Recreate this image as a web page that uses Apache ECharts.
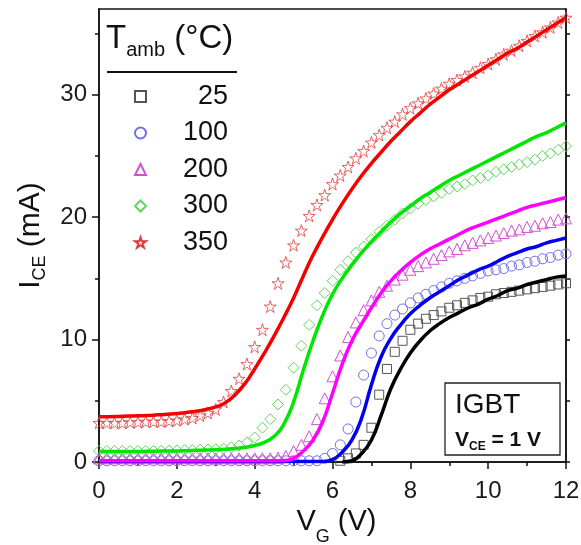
<!DOCTYPE html>
<html>
<head>
<meta charset="utf-8">
<script src="https://cdn.jsdelivr.net/npm/echarts@6/dist/echarts.min.js"></script>
<style>
html,body{margin:0;padding:0;background:#fff;}
#chart{width:581px;height:545px;}
</style>
</head>
<body>
<div id="chart"></div>
<script>
// ---- Data ----
const legendNames = ['25', '100', '200', '300', '350'];
const xTicks = [0, 2, 4, 6, 8, 10, 12];
const yTicks = [0, 10, 20, 30];

// measured points (symbols), V_G in volts
const vgMeas = [0,0.2,0.4,0.6,0.8,1,1.2,1.4,1.6,1.8,2,2.2,2.4,2.6,2.8,3,3.2,3.4,3.6,3.8,4,4.2,4.4,4.6,4.8,5,5.2,5.4,5.6,5.8,6,6.2,6.4,6.6,6.8,7,7.2,7.4,7.6,7.8,8,8.2,8.4,8.6,8.8,9,9.2,9.4,9.6,9.8,10,10.2,10.4,10.6,10.8,11,11.2,11.4,11.6,11.8,12];

const meas25 = [null,null,null,null,null,null,null,null,null,null,null,null,null,null,null,null,null,null,null,null,null,null,null,null,null,null,null,null,null,null,null,
  0.1,0.3,0.7,1.4,2.8,5.5,7.6,9.0,9.9,10.8,11.3,11.7,12.0,12.3,12.6,12.8,13.0,13.2,13.4,13.5,13.7,13.8,13.9,14.0,14.1,14.2,14.3,14.4,14.5,14.6];
const meas100 = [0.1,0.1,0.1,0.1,0.1,0.1,0.1,0.1,0.1,0.1,0.1,0.1,0.1,0.1,0.1,0.1,0.1,0.1,0.1,0.1,0.1,0.1,0.1,0.1,0.1,0.1,0.1,0.1,0.1,
  0.3,0.7,1.4,2.7,4.9,7.1,8.9,10.3,11.3,12.0,12.5,13.0,13.4,13.7,14.0,14.3,14.6,14.8,15.0,15.2,15.4,15.6,15.7,15.8,16.0,16.1,16.3,16.4,16.6,16.7,16.9,17.0];
const meas200 = [0.3,0.3,0.3,0.3,0.3,0.3,0.3,0.3,0.3,0.3,0.3,0.3,0.3,0.3,0.3,0.3,0.3,0.3,0.3,0.3,0.3,0.3,0.3,
  0.35,0.5,0.9,1.4,2.1,3.5,5.2,7.0,8.7,10.2,11.4,12.4,13.2,13.9,14.4,14.9,15.3,15.7,16.0,16.3,16.6,16.9,17.2,17.4,17.7,17.9,18.1,18.3,18.5,18.7,18.9,19.0,19.2,19.3,19.5,19.6,19.8,19.9];
const meas300 = [0.9,0.9,0.9,0.9,0.9,0.9,0.9,0.9,0.92,0.93,0.95,0.96,0.98,1.0,1.02,1.05,1.1,1.2,1.35,1.6,2.0,2.8,3.5,4.7,5.9,7.7,9.5,11.2,12.8,13.8,14.8,15.7,16.4,17.1,17.6,18.2,18.8,19.3,19.8,20.3,20.7,21.1,21.4,21.7,22.0,22.3,22.5,22.7,23.0,23.2,23.4,23.7,23.9,24.1,24.3,24.5,24.7,25.0,25.2,25.5,25.8];
const meas350 = [3.2,3.2,3.2,3.2,3.25,3.25,3.3,3.3,3.3,3.35,3.4,3.5,3.6,3.8,4.0,4.3,4.9,5.8,6.8,8.0,9.4,10.8,12.7,14.6,16.3,17.7,18.9,20.1,21.0,21.8,22.7,23.4,24.1,24.8,25.4,26.1,26.7,27.3,27.8,28.4,28.9,29.3,29.7,30.1,30.5,30.9,31.2,31.5,31.8,32.2,32.5,32.9,33.3,33.6,34.0,34.4,34.8,35.1,35.5,35.9,36.3];

// model curves (lines)
const vgFit = [0,0.25,0.5,0.75,1,1.25,1.5,1.75,2,2.25,2.5,2.75,3,3.25,3.5,3.75,4,4.25,4.5,4.75,5,5.25,5.5,5.75,6,6.25,6.5,6.75,7,7.25,7.5,7.75,8,8.25,8.5,8.75,9,9.25,9.5,9.75,10,10.25,10.5,10.75,11,11.25,11.5,11.75,12];
const fit25 = [null,null,null,null,null,null,null,null,null,null,null,null,null,null,null,null,null,null,null,null,null,null,null,null,null,
  0.0,0.1,0.7,1.8,3.8,6.0,7.6,8.9,9.9,10.7,11.3,11.8,12.2,12.6,12.9,13.3,13.6,14.0,14.2,14.5,14.7,14.9,15.1,15.2];
const fit100 = [0.05,0.05,0.05,0.05,0.05,0.05,0.05,0.05,0.05,0.05,0.05,0.05,0.05,0.05,0.05,0.05,0.05,0.05,0.05,0.05,0.05,0.05,0.05,0.05,
  0.2,0.8,1.8,3.6,6.3,8.6,10.1,11.2,12.1,12.8,13.4,13.9,14.4,14.9,15.3,15.7,16.0,16.4,16.8,17.1,17.4,17.6,17.9,18.1,18.3];
const fit200 = [0.1,0.1,0.1,0.1,0.1,0.1,0.1,0.1,0.1,0.1,0.1,0.1,0.1,0.1,0.1,0.1,0.1,0.1,0.1,0.12,
  0.3,0.9,1.8,3.3,5.6,8.0,9.9,11.3,12.6,13.8,14.8,15.6,16.3,16.9,17.4,17.8,18.2,18.6,19.0,19.3,19.6,19.9,20.2,20.5,20.8,21.0,21.2,21.4,21.6];
const fit300 = [0.85,0.85,0.85,0.85,0.86,0.87,0.88,0.9,0.9,0.92,0.95,0.98,1.0,1.05,1.1,1.2,1.35,1.6,2.1,3.1,4.9,7.5,9.9,12.0,13.7,15.0,16.1,17.1,18.0,18.8,19.6,20.3,20.9,21.5,22.0,22.5,23.0,23.4,23.8,24.2,24.6,25.0,25.4,25.8,26.2,26.6,26.9,27.3,27.7];
const fit350 = [3.7,3.7,3.72,3.75,3.78,3.8,3.85,3.9,3.97,4.05,4.15,4.3,4.5,4.85,5.5,6.4,7.6,8.9,10.3,11.8,13.4,15.2,16.9,18.4,19.8,21.1,22.3,23.4,24.4,25.3,26.2,27.0,27.8,28.5,29.2,29.8,30.4,30.9,31.4,31.9,32.4,32.9,33.4,33.8,34.3,34.8,35.3,35.8,36.3];

const measSets = [meas25, meas100, meas200, meas300, meas350];
const fitSets = [fit25, fit100, fit200, fit300, fit350];

// ---- Styles ----
const FONT = 'Liberation Sans, Arial, sans-serif';
const markerColors = ['#555555', '#7070e6', '#d450d4', '#62d662', '#e03a3a'];
const lineColors = ['#000000', '#0000f0', '#ff00ff', '#00e600', '#f50000'];
const starPath = 'path://M50,0 L61.8,35.1 L98.8,35.1 L68.9,56.9 L80.3,92.1 L50,70.4 L19.7,92.1 L31.1,56.9 L1.2,35.1 L38.2,35.1 Z';
const symbols = ['rect', 'circle', 'triangle', 'diamond', starPath];
const symbolSizes = [9, 10, 11, 11, 12];
const borderWidths = [1, 1, 1, 1, 0.8];

function pairs(xs, ys) {
  const out = [];
  for (let i = 0; i < xs.length; i++) {
    if (ys[i] !== null) out.push([xs[i], ys[i]]);
  }
  return out;
}

const series = [];
for (let k = 0; k < 5; k++) {
  series.push({
    name: legendNames[k] + ' fit',
    type: 'line',
    data: pairs(vgFit, fitSets[k]),
    showSymbol: false,
    smooth: 0.5,
    lineStyle: { color: lineColors[k], width: 3.5 },
    itemStyle: { color: lineColors[k] },
    z: 3,
    silent: true
  });
}
for (let k = 0; k < 5; k++) {
  series.push({
    name: legendNames[k],
    type: 'scatter',
    data: pairs(vgMeas, measSets[k]),
    symbol: symbols[k],
    symbolSize: symbolSizes[k],
    itemStyle: { color: 'rgba(255,255,255,0)', borderColor: markerColors[k], borderWidth: borderWidths[k], opacity: 1 },
    z: 2,
    silent: true
  });
}

const chart = echarts.init(document.getElementById('chart'), null, { renderer: 'canvas' });
chart.setOption({
  animation: false,
  backgroundColor: '#ffffff',
  grid: { left: 99, right: 15, top: 9, bottom: 83, containLabel: false, outerBoundsMode: 'none',
          show: true, borderColor: '#111', borderWidth: 1.5, backgroundColor: 'transparent' },
  title: {
    text: '{t|T}{s|amb}{t| (°C)}',
    left: 106, top: 22, padding: 0,
    textStyle: {
      fontWeight: 'normal',
      rich: {
        t: { fontSize: 33, fontWeight: 'normal', fontFamily: FONT, color: '#111', lineHeight: 34 },
        s: { fontSize: 20, fontWeight: 'normal', fontFamily: FONT, color: '#111', lineHeight: 20, padding: [22, 0, 0, 0] }
      }
    }
  },
  legend: {
    orient: 'vertical', left: 134, top: 83, padding: 0,
    itemWidth: 11, itemHeight: 11, itemGap: 9.5,
    data: legendNames,
    selectedMode: false,
    formatter: '{n|{name}}',
    textStyle: {
      rich: { n: { width: 77, align: 'right', fontSize: 27, lineHeight: 28, fontFamily: FONT, color: '#111' } }
    }
  },
  xAxis: [{
    type: 'value', min: 0, max: 12, interval: 2, position: 'bottom',
    name: '{a|V}{b|G}{a| (V)}', nameLocation: 'middle', nameGap: 45, nameMoveOverlap: false,
    nameTextStyle: {
      padding: [0, 0, 0, 8],
      rich: {
        a: { fontSize: 29, fontFamily: FONT, color: '#111', lineHeight: 30 },
        b: { fontSize: 18, fontFamily: FONT, color: '#111', lineHeight: 18, padding: [30, 0, 0, 0] }
      }
    },
    axisLine: { show: true, lineStyle: { color: '#111', width: 1.5 } },
    axisTick: { show: true, inside: false, length: 7, lineStyle: { color: '#111', width: 1.5 } },
    minorTick: { show: true, splitNumber: 2, length: 4, lineStyle: { color: '#111', width: 1.5 } },
    splitLine: { show: false },
    minorSplitLine: { show: false },
    axisLabel: { fontSize: 24, fontFamily: FONT, color: '#1a1a1a', margin: 17, customValues: xTicks }
  }],
  yAxis: [{
    type: 'value', min: 0, max: 37, interval: 10, position: 'left',
    name: '{a|I}{b|CE}{a| (mA)}', nameLocation: 'middle', nameGap: 53,
    nameTextStyle: {
      rich: {
        a: { fontSize: 30, fontFamily: FONT, color: '#111', lineHeight: 30 },
        b: { fontSize: 18, fontFamily: FONT, color: '#111', lineHeight: 18, padding: [20, 0, 0, 0] }
      }
    },
    axisLine: { show: true, lineStyle: { color: '#111', width: 1.5 } },
    axisTick: { show: true, inside: false, length: 7, customValues: yTicks, lineStyle: { color: '#111', width: 1.5 } },
    splitLine: { show: false },
    axisLabel: { fontSize: 24, fontFamily: FONT, color: '#1a1a1a', margin: 12, customValues: yTicks }
  }, {
    type: 'value', min: 0, max: 37, interval: 5, position: 'left', offset: 0,
    axisLine: { show: false },
    axisTick: { show: true, inside: false, length: 4, customValues: [5, 15, 25, 35], lineStyle: { color: '#111', width: 1.5 } },
    splitLine: { show: false },
    axisLabel: { show: false }
  }, {
    type: 'value', min: 0, max: 37, interval: 5, position: 'right',
    axisLine: { show: true, lineStyle: { color: '#111', width: 1.5 } },
    axisTick: { show: true, inside: false, length: 4, customValues: [0, 5, 10, 15, 20, 25, 30, 35], lineStyle: { color: '#111', width: 1.5 } },
    splitLine: { show: false },
    axisLabel: { show: false }
  }],
  graphic: [
    { type: 'line', shape: { x1: 107, y1: 72, x2: 237, y2: 72 }, style: { stroke: '#111', lineWidth: 2 }, z: 10 },
    { type: 'rect', shape: { x: 445, y: 383, width: 115, height: 72 }, style: { fill: '#fff', stroke: '#222', lineWidth: 1.3 }, z: 10 },
    { type: 'text', x: 455, y: 405, style: { text: 'IGBT', font: '28px Liberation Sans, Arial, sans-serif', fill: '#111', verticalAlign: 'middle' }, z: 11 },
    { type: 'text', x: 455, y: 440, style: {
        text: '{v|V}{s|CE}{v| = 1 V}', verticalAlign: 'middle',
        rich: {
          v: { font: 'bold 21px Liberation Sans, Arial, sans-serif', fill: '#111', lineHeight: 22 },
          s: { font: 'bold 12px Liberation Sans, Arial, sans-serif', fill: '#111', lineHeight: 12, padding: [14, 0, 0, 0] }
        }
      }, z: 11 }
  ],
  series: series
});
</script>
</body>
</html>
